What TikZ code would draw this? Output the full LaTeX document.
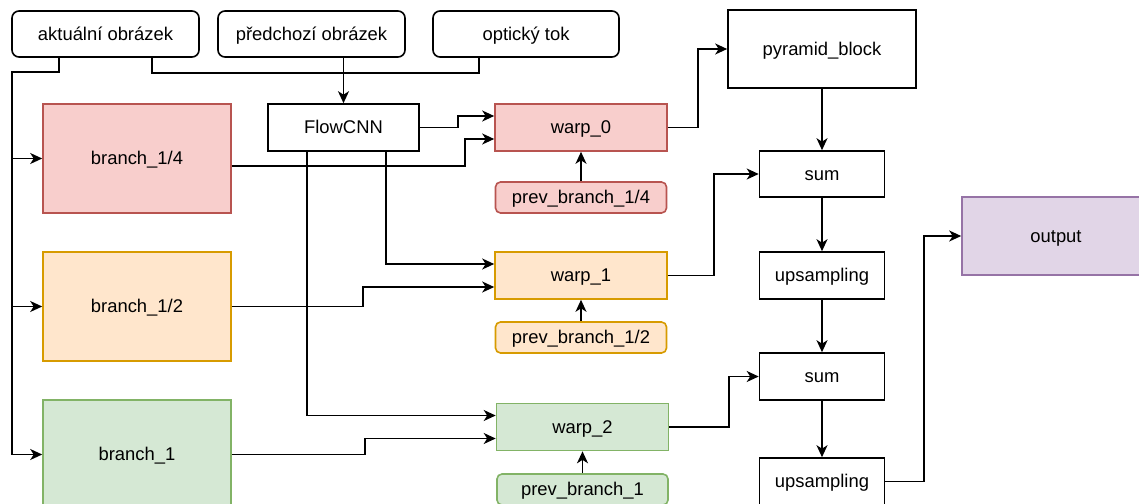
\documentclass[tikz,border=0pt]{standalone}
\usepackage{fontspec}
\setmainfont{Liberation Sans}
\usetikzlibrary{arrows.meta,calc}

\definecolor{redfill}{HTML}{F8CECC}\definecolor{redline}{HTML}{B85450}
\definecolor{orafill}{HTML}{FFE6CC}\definecolor{oraline}{HTML}{D79B00}
\definecolor{grnfill}{HTML}{D5E8D4}\definecolor{grnline}{HTML}{82B366}
\definecolor{purfill}{HTML}{E1D5E7}\definecolor{purline}{HTML}{9673A6}

\tikzset{
  base/.style={draw=black, line width=1.6pt, inner sep=0pt, align=center,
               font=\fontsize{18.4}{22}\selectfont,
               text height=16.65pt, text depth=3.9pt},
  rnd/.style={base, rounded corners=7pt},
  redbox/.style={draw=redline, fill=redfill},
  orabox/.style={draw=oraline, fill=orafill},
  grnbox/.style={draw=grnline, fill=grnfill},
  purbox/.style={draw=purline, fill=purfill},
  wire/.style={line width=1.8pt},
  conn/.style={line width=1.8pt, -{Stealth[length=12pt,width=11pt,inset=3.5pt]}},
}

\begin{document}
\begin{tikzpicture}[x=1pt,y=-1pt]
\useasboundingbox (0,0) rectangle (1139,503);
\fill[white] (0,0) rectangle (1139,503);
\clip (0,0) rectangle (1139,503);

% inputs
\node[rnd, minimum width=187pt, minimum height=46pt] (akt)  at (105.5,34) {aktuální obrázek};
\node[rnd, minimum width=187pt, minimum height=46pt] (pred) at (311.5,34) {předchozí obrázek};
\node[rnd, minimum width=186pt, minimum height=46pt] (opt)  at (526,34)   {optický tok};

% flow network
\node[base, minimum width=151pt, minimum height=47pt] (flow) at (343.5,127.5) {FlowCNN};

% feature branches
\node[base, redbox, minimum width=188pt, minimum height=109pt] (b14) at (137,158.5) {branch\_1/4};
\node[base, orabox, minimum width=188pt, minimum height=109pt] (b12) at (137,306.5) {branch\_1/2};
\node[base, grnbox, minimum width=188pt, minimum height=109pt] (b1)  at (137,454.5) {branch\_1};

% warping
\node[base, redbox, minimum width=172pt, minimum height=47pt] (w0) at (581,127.5) {warp\_0};
\node[base, orabox, minimum width=172pt, minimum height=47pt] (w1) at (581,275.5) {warp\_1};
\node[base, grnbox, minimum width=172pt, minimum height=47pt] (w2) at (582.5,427) {warp\_2};

\node[rnd, redbox, rounded corners=5pt, minimum width=171pt, minimum height=31pt] (pb14) at (581,197.5) {prev\_branch\_1/4};
\node[rnd, orabox, rounded corners=5pt, minimum width=171pt, minimum height=31pt] (pb12) at (581,337.5) {prev\_branch\_1/2};
\node[rnd, grnbox, rounded corners=5pt, minimum width=171pt, minimum height=31pt] (pb1)  at (582.5,489.5) {prev\_branch\_1};

% pyramid merge
\node[base, minimum width=188pt, minimum height=78pt] (pyr)  at (822,49)    {pyramid\_block};
\node[base, minimum width=125pt, minimum height=46pt] (sum1) at (822,174)   {sum};
\node[base, minimum width=125pt, minimum height=47pt] (up1)  at (822,275.5) {upsampling};
\node[base, minimum width=125pt, minimum height=47pt] (sum2) at (822,376.5) {sum};
\node[base, minimum width=125pt, minimum height=47pt] (up2)  at (822,481.5) {upsampling};

\node[base, purbox, minimum width=188pt, minimum height=78pt] (out) at (1056,236) {output};

% current frame fans out to all branches
\coordinate (trunk) at (12,72);
\draw[conn] ($(akt.south)+(-46.5,0)$) |- (trunk) |- (b1.west);
\draw[conn] (trunk |- b14.west) -- (b14.west);
\draw[conn] (trunk |- b12.west) -- (b12.west);

% inputs of the flow network
\draw[wire] ($(akt.south)+(46.5,0)$) |- ($(opt.south)+(-47,15)$) -- ($(opt.south)+(-47,0)$);
\draw[conn] (pred.south -| flow.north) -- (flow.north);

% flow to the warps
\draw[conn] (flow.east) -- ++(38,0) |- ($(w0.west)+(0,-11.5)$);
\draw[conn] ($(flow.south)+(42.5,0)$) |- ($(w1.west)+(0,-11.5)$);
\draw[conn] ($(flow.south)+(-36.5,0)$) |- ($(w2.west)+(0,-11.5)$);

% branches to the warps
\draw[conn] ($(b14.east)+(0,7.5)$) -- ++(233,0) |- ($(w0.west)+(0,11.5)$);
\draw[conn] (b12.east) -- ++(131.5,0) |- ($(w1.west)+(0,11.5)$);
\draw[conn] (b1.east) -- ++(133,0) |- ($(w2.west)+(0,11.5)$);

% previous branches
\draw[conn] (pb14.north) -- (w0.south);
\draw[conn] (pb12.north) -- (w1.south);
\draw[conn] (pb1.north) -- (w2.south);

% merge chain
\draw[conn] (w0.east) -- ++(30,0) |- (pyr.west);
\draw[conn] (w1.east) -- ++(46,0) |- (sum1.west);
\draw[conn] (w2.east) -- ++(59.5,0) |- (sum2.west);
\draw[conn] (pyr.south) -- (sum1.north);
\draw[conn] (sum1.south) -- (up1.north);
\draw[conn] (up1.south) -- (sum2.north);
\draw[conn] (sum2.south) -- (up2.north);
\draw[conn] (up2.east) -- ++(39,0) |- (out.west);
\end{tikzpicture}
\end{document}
